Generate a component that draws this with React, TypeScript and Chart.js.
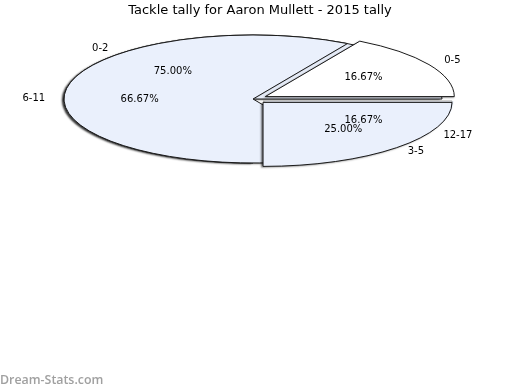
import React, { useEffect, useRef } from "react";
import { Chart, registerables } from "chart.js";

Chart.register(...registerables);

const TITLE = "Tackle tally for Aaron Mullett - 2015 tally";
const WATERMARK = "Dream-Stats.com";

// Series A, percentages (listed counter-clockwise from 3 o'clock)
const rangeLabelsA = ["0-5", "6-11", "12-17"];
const rangeValuesA = [16.67, 66.67, 16.67];

// Series B, percentages (listed counter-clockwise from 3 o'clock)
const rangeLabelsB = ["0-2", "3-5"];
const rangeValuesB = [75.0, 25.0];

const FONT = "DejaVu Sans";
const LIGHT = "#EAF0FC";

export default function App() {
  const ref = useRef<HTMLCanvasElement | null>(null);

  useEffect(() => {
    document.body.style.margin = "0";
    const canvas = ref.current;
    if (!canvas) return;

    // Chart.js goes clockwise: reverse so natural order runs counter-clockwise
    const labelsA = [...rangeLabelsA].reverse();
    const valuesA = [...rangeValuesA].reverse();
    const labelsB = [...rangeLabelsB].reverse();
    const valuesB = [...rangeValuesB].reverse();
    const EXPLODE = 48;
    const offsetsA = labelsA.map((l) =>
      l === "0-5" ? EXPLODE : l === "12-17" ? EXPLODE * 0.82 : 0
    );
    const labelOffA = labelsA.map((l) => (l === "6-11" ? 0 : EXPLODE));
    const offsetsB = labelsB.map((l) => (l === "3-5" ? EXPLODE : 0));
    const labelOffB = offsetsB;
    const colorsA = labelsA.map((l) => (l === "0-5" ? "#FFFFFF" : LIGHT));
    const colorsB = labelsB.map(() => LIGHT);
    const edgesA = labelsA.map((l) => (l === "12-17" ? "#a8a8a8" : "#1a1a1a"));
    const edgesB = labelsB.map(() => "#1a1a1a");

    const CX = 253;
    const CY = 99;
    const RX = 189;
    const RY = 64;

    const pie3d = {
      id: "pie3d",
      beforeDatasetsDraw(chart: any) {
        const ctx: CanvasRenderingContext2D = chart.ctx;
        const mB = chart.getDatasetMeta(0);
        const mA = chart.getDatasetMeta(1);
        let R = 0;
        [mA, mB].forEach((m: any) =>
          m.data.forEach((el: any) => (R = Math.max(R, el.outerRadius)))
        );
        const cx = mB.data[0].x;
        const cy = mB.data[0].y;
        const sx = RX / R;
        const sy = RY / R;
        const tf = () => {
          ctx.translate(CX, CY);
          ctx.scale(sx, sy);
          ctx.translate(-cx, -cy);
        };

        const drawSlice = (el: any, edge: string, shadow: boolean) => {
          el.innerRadius = 0;
          el.outerRadius = R;
          ctx.save();
          tf();
          if (shadow) {
            ctx.shadowColor = "rgba(0,0,0,0.55)";
            ctx.shadowOffsetX = -2;
            ctx.shadowOffsetY = 1;
            ctx.shadowBlur = 2;
          }
          el.draw(ctx);
          ctx.restore();
          const off = (el.options.offset || 0) / 4;
          const mid = (el.startAngle + el.endAngle) / 2;
          const ox = cx + Math.cos(mid) * off;
          const oy = cy + Math.sin(mid) * off;
          ctx.save();
          tf();
          ctx.beginPath();
          ctx.moveTo(ox, oy);
          ctx.arc(ox, oy, R, el.startAngle, el.endAngle);
          ctx.closePath();
          ctx.restore();
          ctx.save();
          ctx.lineWidth = 1;
          ctx.strokeStyle = edge;
          ctx.stroke();
          ctx.restore();
        };

        const idx02 = labelsB.indexOf("0-2");
        const idx35 = labelsB.indexOf("3-5");
        drawSlice(mB.data[idx02], edgesB[idx02], true);
        mA.data.forEach((el: any, i: number) =>
          drawSlice(el, edgesA[i], labelsA[i] !== "12-17")
        );
        drawSlice(mB.data[idx35], edgesB[idx35], true);

        // labels
        const drawLabels = (
          m: any,
          labels: string[],
          values: number[],
          loffs: number[]
        ) => {
          m.data.forEach((el: any, i: number) => {
            const off = loffs[i] / 4;
            const mid = (el.startAngle + el.endAngle) / 2;
            const c = Math.cos(mid);
            const s = Math.sin(mid);
            ctx.save();
            ctx.font = `10px '${FONT}'`;
            ctx.fillStyle = "#000";
            ctx.textAlign = "center";
            ctx.textBaseline = "middle";
            // outside label
            const fo = 1.1;
            const ax = CX + c * off * sx + c * fo * RX;
            const ay = CY + s * off * sy + s * fo * RY - 1;
            const w = ctx.measureText(labels[i]).width;
            ctx.fillText(labels[i], ax + (c * w) / 2, ay);
            // percentage
            const fi = 0.6;
            const px = CX + c * (off + fi * R) * sx;
            const py = CY + s * (off + fi * R) * sy;
            ctx.fillText(values[i].toFixed(2) + "%", px, py);
            ctx.restore();
          });
        };
        drawLabels(mB, labelsB, valuesB, labelOffB);
        drawLabels(mA, labelsA, valuesA, labelOffA);
        return false;
      },
      afterDraw(chart: any) {
        const ctx: CanvasRenderingContext2D = chart.ctx;
        ctx.save();
        ctx.font = `600 12.4px 'Open Sans'`;
        ctx.fillStyle = "#a0a0a0";
        ctx.textAlign = "left";
        ctx.textBaseline = "middle";
        ctx.fillText(WATERMARK, 0, 380);
        ctx.restore();
      },
    };

    const chart = new Chart(canvas, {
      type: "pie",
      data: {
        labels: labelsA,
        datasets: [
          {
            data: valuesB,
            backgroundColor: colorsB,
            borderWidth: 0,
            offset: offsetsB,
            hoverOffset: 0,
          } as any,
          {
            data: valuesA,
            backgroundColor: colorsA,
            borderWidth: 0,
            offset: offsetsA,
            hoverOffset: 0,
          } as any,
        ],
      },
      options: {
        responsive: false,
        animation: false,
        rotation: 90,
        events: [],
        plugins: {
          legend: { display: false },
          tooltip: { enabled: false },
          title: {
            display: true,
            text: TITLE,
            color: "#000",
            font: { family: FONT, size: 13, weight: "normal" },
            padding: { top: 3, bottom: 4 },
          },
        },
      } as any,
      plugins: [pie3d],
    });
    return () => chart.destroy();
  }, []);

  return (
    <div style={{ width: 520, height: 390, background: "#fff" }}>
      <canvas ref={ref} width={520} height={390} style={{ display: "block" }} />
    </div>
  );
}
